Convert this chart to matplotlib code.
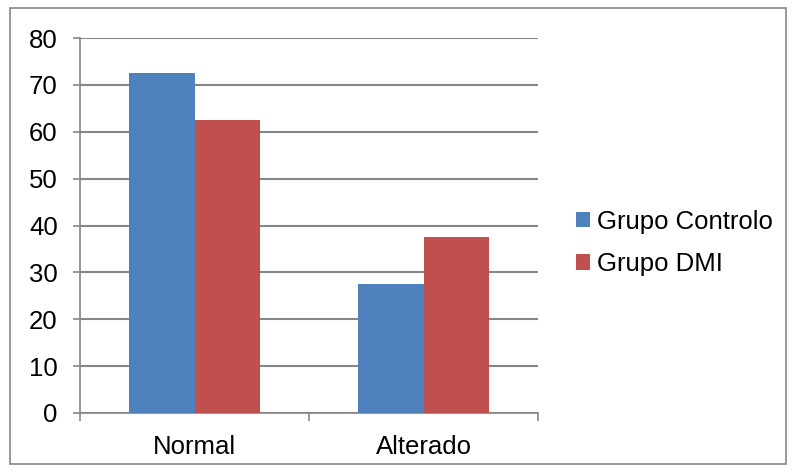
import matplotlib.pyplot as plt
import numpy as np
from matplotlib.patches import Rectangle

plt.rcParams['font.family'] = ['Liberation Sans', 'DejaVu Sans']

# dados do gráfico
categorias = ['Normal', 'Alterado']
grupo_controlo = [72.5, 27.5]
grupo_dmi = [62.5, 37.5]
series = ['Grupo Controlo', 'Grupo DMI']
cores = ['#4F81BD', '#C0504D']
cinza = '#868686'

fig = plt.figure(figsize=(7.95, 4.72), dpi=100)
ax = fig.add_axes([80 / 795, 1 - 413 / 472, 458 / 795, 375 / 472])

x = np.arange(len(categorias))
largura = 1 / 3.5
b1 = ax.bar(x - largura / 2, grupo_controlo, largura, color=cores[0], label=series[0], zorder=3)
b2 = ax.bar(x + largura / 2, grupo_dmi, largura, color=cores[1], label=series[1], zorder=3)

ax.set_xlim(-0.5, len(categorias) - 0.5)
ax.set_ylim(0, 80)
ax.set_yticks(range(0, 81, 10))
ax.yaxis.grid(True, color=cinza, linewidth=1.5, zorder=0)

for lado in ['top', 'right']:
    ax.spines[lado].set_visible(False)
for lado in ['left', 'bottom']:
    ax.spines[lado].set_color(cinza)
    ax.spines[lado].set_linewidth(1.2)

ax.tick_params(axis='y', length=5, width=1.2, color=cinza, pad=11, labelsize=18.5)
ax.set_xticks(x)
ax.set_xticklabels(categorias)
ax.tick_params(axis='x', which='major', length=0, pad=16, labelsize=18.5)
ax.set_xticks(np.arange(-0.5, len(categorias), 1), minor=True)
ax.tick_params(axis='x', which='minor', length=6, width=1.2, color=cinza)

fig.legend(handles=[b1, b2], labels=series, loc='center left',
           bbox_to_anchor=(576 / 795, 1 - 243 / 472), frameon=False,
           fontsize=18.5, handlelength=0.56, handleheight=0.56,
           handletextpad=0.25, labelspacing=0.72, borderaxespad=0,
           borderpad=0)

# moldura exterior
fig.patches.append(Rectangle((10 / 795, 8 / 472), 776 / 795, 456 / 472,
                             transform=fig.transFigure, fill=False,
                             edgecolor=cinza, linewidth=1.2))

plt.savefig('out.png', dpi=100)
